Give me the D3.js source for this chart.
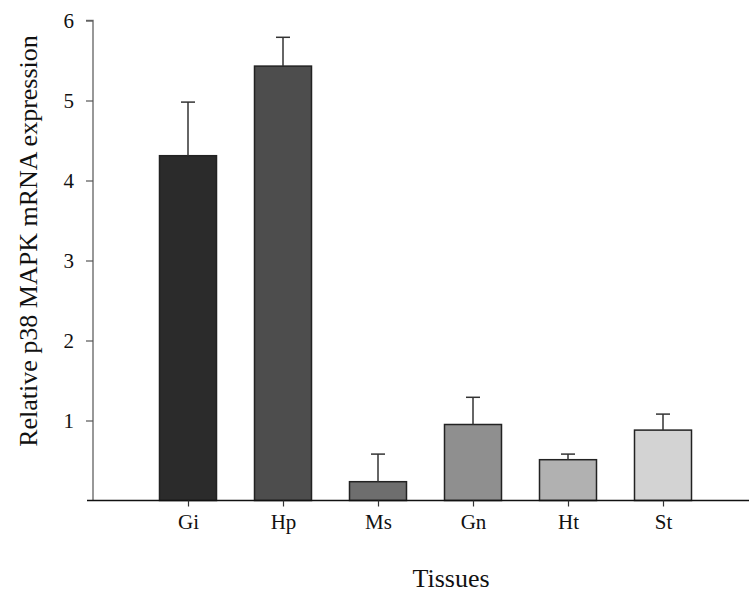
<!DOCTYPE html>
<html><head><meta charset="utf-8">
<script src="https://cdn.jsdelivr.net/npm/d3@7/dist/d3.min.js"></script>
<style>body{margin:0;background:#fff}svg{display:block}</style>
</head><body>
<script>
const categories = ["Gi","Hp","Ms","Gn","Ht","St"];
const values = [4.31, 5.43, 0.235, 0.95, 0.51, 0.88];
const errors = [0.67, 0.36, 0.345, 0.34, 0.07, 0.20];
const colors = ["#2b2b2b","#4d4d4d","#6e6e6e","#8f8f8f","#b1b1b1","#d3d3d3"];
const yTicks = [1,2,3,4,5,6];

const W = 749, H = 594;
const svg = d3.select("body").append("svg").attr("width", W).attr("height", H);
const font = "'Liberation Serif','Times New Roman',serif";

const x = d3.scaleLinear().domain([0, 7]).range([93, 758]);
const y = d3.scaleLinear().domain([0, 6]).range([500.5, 20.5]);
const bw = 57;

// bars
svg.selectAll("rect.bar").data(values).enter().append("rect")
  .attr("x", (d,i) => x(i+1) - bw/2)
  .attr("y", d => y(d))
  .attr("width", bw)
  .attr("height", d => y(0) - y(d))
  .attr("fill", (d,i) => colors[i])
  .attr("stroke", "#222").attr("stroke-width", 1.5);

// error bars
const eg = svg.append("g").attr("stroke", "#333").attr("stroke-width", 1.5);
values.forEach((v,i) => {
  const cx = x(i+1);
  eg.append("line").attr("x1", cx).attr("x2", cx).attr("y1", y(v)).attr("y2", y(v+errors[i]));
  eg.append("line").attr("x1", cx-7).attr("x2", cx+7).attr("y1", y(v+errors[i])).attr("y2", y(v+errors[i]));
});

// y axis
const yAxis = d3.axisLeft(y).tickValues(yTicks).tickSize(7).tickPadding(12).tickFormat(d3.format("d"));
const gy = svg.append("g").attr("transform", "translate(93,0)").call(yAxis);
gy.select(".domain").attr("stroke", "#777").attr("stroke-width", 1.5).attr("d", `M-7,${y(6)}H0V${y(0)}`);
gy.selectAll(".tick line").attr("stroke", "#555").attr("stroke-width", 1.2);
gy.selectAll(".tick text").attr("font-family", font).attr("font-size", 21).attr("fill", "#111");

// x axis
const xAxis = d3.axisBottom(x).tickValues(d3.range(1,7)).tickSize(6).tickPadding(8)
  .tickFormat(d => categories[d-1]);
const gx = svg.append("g").attr("transform", `translate(0,${y(0)})`).call(xAxis);
gx.select(".domain").attr("stroke", "#111").attr("stroke-width", 1.5).attr("d", "M87,0H749");
gx.selectAll(".tick line").attr("stroke", "#333").attr("stroke-width", 1.2);
gx.selectAll(".tick text").attr("font-family", font).attr("font-size", 21).attr("fill", "#111")
  .attr("y", 28.5).attr("dy", 0);

// titles
svg.append("text").attr("x", 451).attr("y", 587).attr("text-anchor", "middle")
  .attr("font-family", font).attr("font-size", 26).attr("fill", "#111").text("Tissues");
svg.append("text").attr("transform", "translate(37,241) rotate(-90)").attr("text-anchor", "middle")
  .attr("font-family", font).attr("font-size", 26).attr("fill", "#111").text("Relative p38 MAPK mRNA expression");
</script>
</body></html>
